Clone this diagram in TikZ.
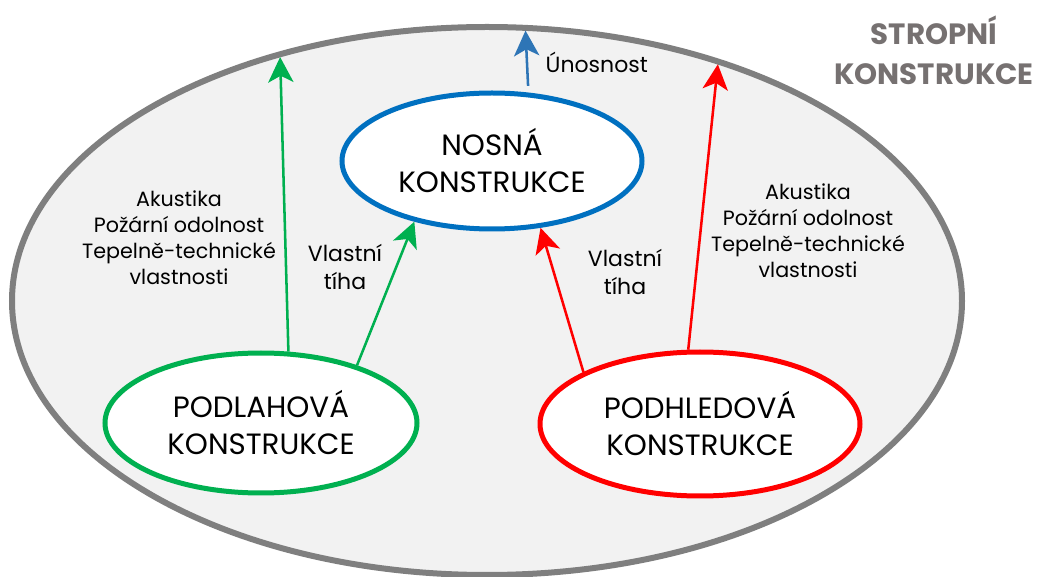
\documentclass[tikz,border=0pt]{standalone}
\usepackage{fontspec}
\setmainfont{Poppins}
\usetikzlibrary{shapes.geometric,arrows.meta}
\definecolor{stropgray}{HTML}{7F7F7F}
\definecolor{stropfill}{HTML}{F2F2F2}
\definecolor{titlegray}{HTML}{767171}
\definecolor{nosblue}{HTML}{0070C0}
\definecolor{arrblue}{HTML}{2E75B6}
\definecolor{podgreen}{HTML}{00B050}
\definecolor{podred}{HTML}{FF0000}

\begin{document}
\begin{tikzpicture}[x=0.75pt,y=-0.75pt,
  oval/.style={ellipse, draw, fill=white, line width=3.75pt,
               inner sep=0pt, align=center,
               font=\fontsize{22}{27.75}\selectfont},
  arr/.style={-{Stealth[length=19pt,width=19pt,inset=5pt]}, line width=1.9pt},
  lbl/.style={align=center, font=\fontsize{15.5}{19.5}\selectfont},
  tiha/.style={align=center, font=\fontsize{16.5}{21}\selectfont}
]
\useasboundingbox (0,0) rectangle (1040,577);

\node[ellipse, draw=stropgray, fill=stropfill, line width=4.5pt, outer sep=0pt,
      minimum width=712.5pt, minimum height=411pt] (strop) at (487,301) {};
\node[align=center, text=titlegray, font=\fontsize{22}{30}\selectfont\bfseries]
      (title) at (934,50) {STROPNÍ\\KONSTRUKCE};

\node[oval, draw=nosblue, minimum width=225pt, minimum height=102pt]
      (nosna) at (492,161) {NOSNÁ\\KONSTRUKCE};
\node[oval, draw=podgreen, minimum width=234pt, minimum height=105pt]
      (podlaha) at (261,423) {PODLAHOVÁ\\KONSTRUKCE};
\node[oval, draw=podred, minimum width=240pt, minimum height=108pt]
      (podhled) at (700,424) {PODHLEDOVÁ\\KONSTRUKCE};

\draw[arr, arrblue, shorten <=5pt, shorten >=2pt] (nosna.62) -- (strop.82);
\draw[arr, podgreen, shorten >=2pt] (podlaha.69) -- (strop.130);
\draw[arr, podgreen] (podlaha.31) -- (nosna.218);
\draw[arr, podred] (podhled.156) -- (nosna.-54);
\draw[arr, podred, shorten >=2pt] (podhled.99) -- (strop.46);

\node[tiha, anchor=west] (unos) at (541,62) {Únosnost};
\node[tiha] (vlastL) at (345,267) {Vlastní\\tíha};
\node[tiha] (vlastR) at (625,272) {Vlastní\\tíha};
\node[lbl] (vlastnostiL) at (179,238)
      {Akustika\\Požární odolnost\\Tepelně-technické\\vlastnosti};
\node[lbl] (vlastnostiR) at (808,231)
      {Akustika\\Požární odolnost\\Tepelně-technické\\vlastnosti};
\end{tikzpicture}
\end{document}
